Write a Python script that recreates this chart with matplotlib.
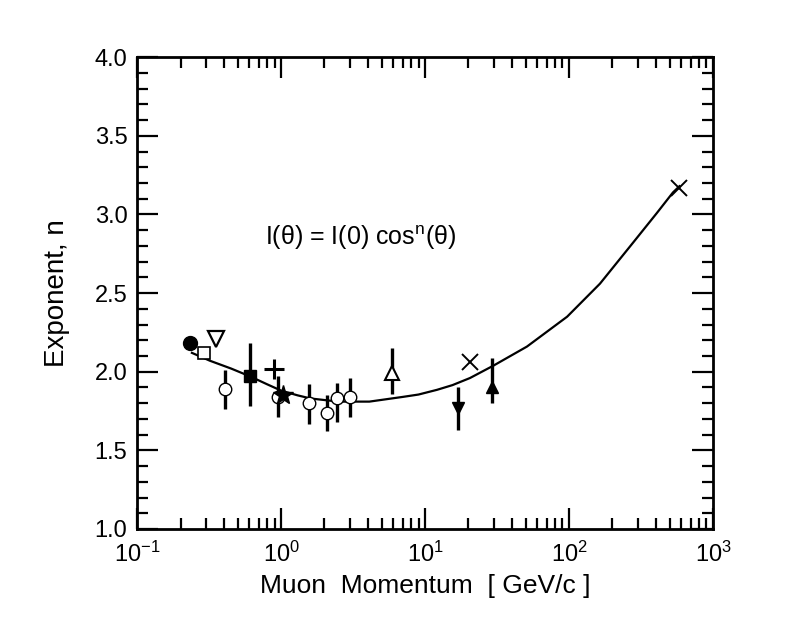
import matplotlib
matplotlib.use("Agg")
import matplotlib.pyplot as plt
from matplotlib.ticker import LogLocator, MultipleLocator, FormatStrFormatter

plt.rcParams["font.family"] = ["Liberation Sans", "DejaVu Sans"]
plt.rcParams["mathtext.fontset"] = "custom"
plt.rcParams["mathtext.rm"] = "Liberation Sans"
plt.rcParams["mathtext.it"] = "Liberation Sans"

# fitted curve
curve_p = [0.24, 0.32, 0.45, 0.61, 0.8, 1.0, 1.3, 1.6, 2.5, 4.1, 7.0, 9.0, 12.1, 15.5, 20.5,
           30, 51, 97, 164, 278, 408, 527, 585]
curve_n = [2.12, 2.07, 2.02, 1.97, 1.92, 1.88, 1.85, 1.83, 1.81, 1.81, 1.84, 1.855, 1.885, 1.915, 1.96,
           2.04, 2.16, 2.35, 2.56, 2.82, 3.01, 3.14, 3.18]

# measurements with error bars (lower / upper error)
open_circle_p = [0.41, 0.95, 1.55, 2.09, 2.45, 3.0]
open_circle_n = [1.89, 1.84, 1.80, 1.74, 1.83, 1.84]
open_circle_lo = [0.13, 0.13, 0.13, 0.12, 0.15, 0.13]
open_circle_hi = [0.12, 0.13, 0.12, 0.11, 0.10, 0.12]

filled_square_p = [0.61]
filled_square_n = [1.97]
filled_square_lo = [0.19]
filled_square_hi = [0.21]

open_up_tri_p = [5.9]
open_up_tri_n = [1.99]
open_up_tri_lo = [0.13]
open_up_tri_hi = [0.16]

filled_down_tri_p = [17.0]
filled_down_tri_n = [1.77]
filled_down_tri_lo = [0.14]
filled_down_tri_hi = [0.13]

filled_up_tri_p = [29.0]
filled_up_tri_n = [1.90]
filled_up_tri_lo = [0.10]
filled_up_tri_hi = [0.19]

# single points without error bars
filled_circle_p, filled_circle_n = [0.233], [2.18]
open_square_p, open_square_n = [0.29], [2.12]
open_down_tri_p, open_down_tri_n = [0.35], [2.21]
plus_p, plus_n = [0.89], [2.02]
star_p, star_n = [1.03], [1.85]
cross_p, cross_n = [20.5, 585], [2.06, 3.17]

fig = plt.figure(figsize=(8.07, 6.29), dpi=100)
ax = fig.add_axes([0.170, 0.159, 0.7135, 0.750])

ax.plot(curve_p, curve_n, color="black", lw=1.6, zorder=2)

eb = dict(color="black", elinewidth=2.4, capsize=0, ls="none", zorder=3)
ax.errorbar(open_circle_p, open_circle_n, yerr=[open_circle_lo, open_circle_hi],
            marker="o", ms=9, mfc="white", mec="black", mew=1.0, **eb)
ax.errorbar(filled_square_p, filled_square_n, yerr=[filled_square_lo, filled_square_hi],
            marker="s", ms=9, mfc="black", mec="black", **eb)
ax.errorbar(open_up_tri_p, open_up_tri_n, yerr=[open_up_tri_lo, open_up_tri_hi],
            marker="^", ms=10, mfc="white", mec="black", mew=1.5, **eb)
ax.errorbar(filled_down_tri_p, filled_down_tri_n, yerr=[filled_down_tri_lo, filled_down_tri_hi],
            marker="v", ms=9, mfc="black", mec="black", **eb)
ax.errorbar(filled_up_tri_p, filled_up_tri_n, yerr=[filled_up_tri_lo, filled_up_tri_hi],
            marker="^", ms=9, mfc="black", mec="black", **eb)

ax.plot(filled_circle_p, filled_circle_n, "o", ms=10, color="black", zorder=4)
ax.plot(open_square_p, open_square_n, "s", ms=8, mfc="white", mec="black", mew=1.2, zorder=4)
ax.plot(open_down_tri_p, open_down_tri_n, "v", ms=11, mfc="white", mec="black", mew=1.6, zorder=4)
ax.plot(plus_p, plus_n, "+", ms=14, mew=2.2, color="black", zorder=4)
ax.plot(star_p, star_n, "*", ms=15, color="black", zorder=4)
ax.plot(cross_p, cross_n, "x", ms=11, mew=1.4, color="black", zorder=4)

ax.text(0.77, 2.85, r"I(θ) = I(0) cos$^{\rm n}$(θ)", fontsize=18, ha="left", va="center")

ax.set_xscale("log")
ax.set_xlim(0.1, 1000)
ax.set_ylim(1.0, 4.0)
ax.yaxis.set_major_locator(MultipleLocator(0.5))
ax.yaxis.set_minor_locator(MultipleLocator(0.1))
ax.yaxis.set_major_formatter(FormatStrFormatter("%.1f"))
ax.xaxis.set_major_locator(LogLocator(base=10, numticks=10))
ax.xaxis.set_minor_locator(LogLocator(base=10, subs=range(2, 10), numticks=20))

ax.tick_params(which="both", direction="in", top=True, right=True, width=1.6, colors="black")
ax.tick_params(which="major", length=15, labelsize=17)
ax.tick_params(axis="x", which="major", pad=9)
ax.tick_params(axis="y", which="major", pad=7)
ax.tick_params(which="minor", length=8)
for s in ax.spines.values():
    s.set_linewidth(2.0)

ax.set_xlabel("Muon  Momentum  [ GeV/c ]", fontsize=19, labelpad=5)
ax.set_ylabel("Exponent, n", fontsize=20, labelpad=18)

fig.savefig("out.png", dpi=100)
